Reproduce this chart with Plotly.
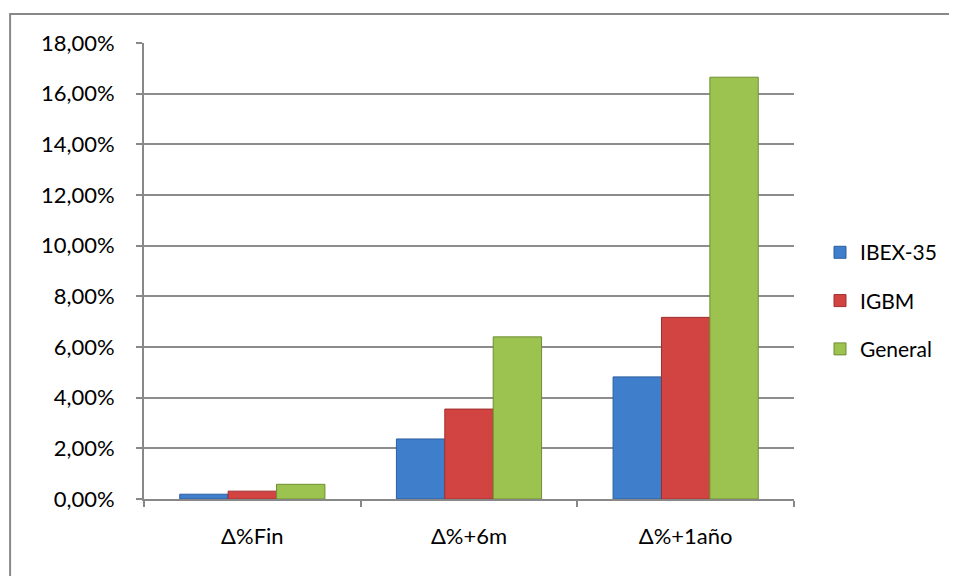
import plotly.graph_objects as go

categories = ["Δ%Fin", "Δ%+6m", "Δ%+1año"]
ibex = [0.0019, 0.0237, 0.0482]
igbm = [0.0031, 0.0355, 0.0717]
general = [0.0058, 0.0640, 0.1665]
series_names = ["IBEX-35", "IGBM", "General"]
tick_vals = [0, 0.02, 0.04, 0.06, 0.08, 0.10, 0.12, 0.14, 0.16, 0.18]
tick_text = ["0,00%", "2,00%", "4,00%", "6,00%", "8,00%", "10,00%", "12,00%", "14,00%", "16,00%", "18,00%"]

colors = ["#3F7ECB", "#D24442", "#9CC24F"]
lines = ["#2D5E9E", "#9E2F2D", "#6F8F34"]

fig = go.Figure()
for name, vals, c, lc in zip(series_names, [ibex, igbm, general], colors, lines):
    fig.add_trace(go.Bar(
        x=categories, y=vals, name=name, legendgroup=name,
        marker=dict(color=c, line=dict(color=lc, width=1)),
    ))

font = dict(family="Lato, Carlito, sans-serif", size=22, color="#000000")
legend_font = dict(family="Lato, Carlito, sans-serif", size=21, color="#000000")

fig.update_layout(
    width=957, height=576,
    margin=dict(l=136, r=171, t=35, b=85, autoexpand=False),
    paper_bgcolor="white", plot_bgcolor="white",
    barmode="group", bargap=0.33, bargroupgap=0,
    font=font,
    showlegend=True,
    legend=dict(x=1.04, y=0.435, xanchor="left", yanchor="middle",
                traceorder="grouped", tracegroupgap=18,
                font=legend_font, bgcolor="rgba(0,0,0,0)"),
    xaxis=dict(showline=True, linecolor="#888888", linewidth=2,
               ticks="outside", tickson="boundaries", ticklen=6,
               tickcolor="#888888", tickwidth=2,
               ticklabelstandoff=17, showgrid=False),
    yaxis=dict(range=[0, 0.18], tickvals=tick_vals, ticktext=tick_text,
               showline=True, linecolor="#888888", linewidth=2,
               ticks="outside", ticklen=6, tickcolor="#888888", tickwidth=2,
               showgrid=True, gridcolor="#8C8C8C", gridwidth=1.5,
               ticklabelstandoff=17, zeroline=False),
    shapes=[dict(type="rect", xref="paper", yref="paper",
                 x0=-0.206, x1=1.35, y0=-0.19, y1=1.0636,
                 line=dict(color="#888888", width=2), layer="below")],
)

fig.write_html("out.html")
